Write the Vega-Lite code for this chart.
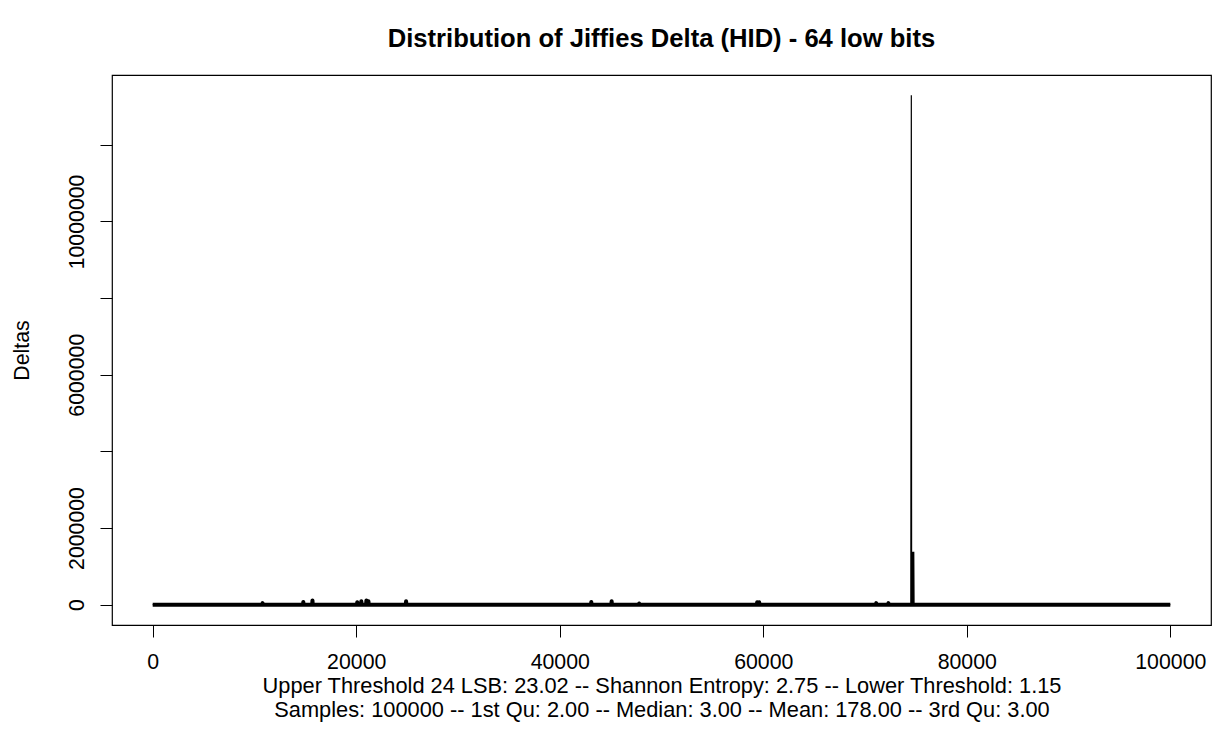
{
  "$schema": "https://vega.github.io/schema/vega-lite/v6.json",
  "width": 1099,
  "height": 550,
  "autosize": {"type": "none"},
  "padding": {"left": 112, "top": 75, "right": 2, "bottom": 106},
  "background": "white",
  "title": {
    "text": "Distribution of Jiffies Delta (HID) - 64 low bits",
    "anchor": "middle",
    "frame": "group",
    "font": "Liberation Sans",
    "fontSize": 25.6,
    "fontWeight": "bold",
    "color": "black",
    "baseline": "alphabetic",
    "offset": 2
  },
  "config": {
    "font": "Liberation Sans",
    "view": {"stroke": "black", "strokeWidth": 1.2}
  },
  "data": {
    "values": [
      {"index": 0, "delta": 3},
      {"index": 5000, "delta": 3},
      {"index": 10000, "delta": 3},
      {"index": 10770, "delta": 3},
      {"index": 10800, "delta": 40000},
      {"index": 10830, "delta": 3},
      {"index": 14770, "delta": 3},
      {"index": 14800, "delta": 70000},
      {"index": 14830, "delta": 3},
      {"index": 15670, "delta": 3},
      {"index": 15700, "delta": 110000},
      {"index": 15730, "delta": 3},
      {"index": 20070, "delta": 3},
      {"index": 20100, "delta": 60000},
      {"index": 20130, "delta": 3},
      {"index": 20470, "delta": 3},
      {"index": 20500, "delta": 90000},
      {"index": 20530, "delta": 3},
      {"index": 20970, "delta": 3},
      {"index": 21000, "delta": 110000},
      {"index": 21030, "delta": 3},
      {"index": 21170, "delta": 3},
      {"index": 21200, "delta": 90000},
      {"index": 21230, "delta": 3},
      {"index": 24870, "delta": 3},
      {"index": 24900, "delta": 90000},
      {"index": 24930, "delta": 3},
      {"index": 30000, "delta": 3},
      {"index": 35000, "delta": 3},
      {"index": 40000, "delta": 3},
      {"index": 43070, "delta": 3},
      {"index": 43100, "delta": 70000},
      {"index": 43130, "delta": 3},
      {"index": 45070, "delta": 3},
      {"index": 45100, "delta": 90000},
      {"index": 45130, "delta": 3},
      {"index": 47770, "delta": 3},
      {"index": 47800, "delta": 30000},
      {"index": 47830, "delta": 3},
      {"index": 50000, "delta": 3},
      {"index": 55000, "delta": 3},
      {"index": 59370, "delta": 3},
      {"index": 59400, "delta": 60000},
      {"index": 59430, "delta": 3},
      {"index": 59570, "delta": 3},
      {"index": 59600, "delta": 60000},
      {"index": 59630, "delta": 3},
      {"index": 65000, "delta": 3},
      {"index": 70000, "delta": 3},
      {"index": 71070, "delta": 3},
      {"index": 71100, "delta": 40000},
      {"index": 71130, "delta": 3},
      {"index": 72270, "delta": 3},
      {"index": 72300, "delta": 40000},
      {"index": 72330, "delta": 3},
      {"index": 74500, "delta": 3},
      {"index": 74550, "delta": 13290000},
      {"index": 74580, "delta": 3},
      {"index": 74610, "delta": 1380000},
      {"index": 74640, "delta": 3},
      {"index": 74670, "delta": 1370000},
      {"index": 74700, "delta": 3},
      {"index": 74730, "delta": 1380000},
      {"index": 74760, "delta": 3},
      {"index": 74790, "delta": 1380000},
      {"index": 74820, "delta": 3},
      {"index": 80000, "delta": 3},
      {"index": 85000, "delta": 3},
      {"index": 90000, "delta": 3},
      {"index": 95000, "delta": 3},
      {"index": 100000, "delta": 3}
    ]
  },
  "encoding": {
    "x": {
      "field": "index",
      "type": "quantitative",
      "scale": {"domain": [-4000, 104000], "nice": false, "zero": false},
      "axis": {
        "values": [0, 20000, 40000, 60000, 80000, 100000],
        "format": "d",
        "grid": false,
        "domain": false,
        "ticks": true,
        "tickSize": 12,
        "tickColor": "black",
        "tickWidth": 1,
        "labelFont": "Liberation Sans",
        "labelFontSize": 21.3,
        "labelColor": "black",
        "labelBaseline": "alphabetic",
        "labelPadding": 31,
        "labelFlush": false,
        "labelOverlap": false,
        "title": [
          "Upper Threshold 24 LSB: 23.02 -- Shannon Entropy: 2.75 -- Lower Threshold: 1.15",
          "Samples: 100000 -- 1st Qu: 2.00 -- Median: 3.00 -- Mean: 178.00 -- 3rd Qu: 3.00"
        ],
        "titleFont": "Liberation Sans",
        "titleFontSize": 21.8,
        "titleFontWeight": "normal",
        "titleColor": "black",
        "titleBaseline": "top",
        "titleAlign": "center",
        "titleAnchor": "middle",
        "titleLineHeight": 24.6,
        "titleX": 549.5,
        "titleY": 50
      }
    },
    "y": {
      "field": "delta",
      "type": "quantitative",
      "scale": {"domain": [-531600, 13821600], "nice": false, "zero": false},
      "axis": {
        "values": [0, 2000000, 4000000, 6000000, 8000000, 10000000, 12000000],
        "format": "d",
        "labelExpr": "datum.value == 4000000 || datum.value == 8000000 || datum.value == 12000000 ? '' : datum.label",
        "grid": false,
        "domain": false,
        "tickSize": 12,
        "tickColor": "black",
        "tickWidth": 1,
        "labelFont": "Liberation Sans",
        "labelFontSize": 21.3,
        "labelColor": "black",
        "labelAngle": -90,
        "labelAlign": "center",
        "labelBaseline": "alphabetic",
        "labelPadding": 17,
        "labelOverlap": false,
        "labelFlush": false,
        "title": "Deltas",
        "titleFont": "Liberation Sans",
        "titleFontSize": 21.3,
        "titleFontWeight": "normal",
        "titleColor": "black",
        "titleAngle": -90,
        "titleAlign": "center",
        "titleBaseline": "alphabetic",
        "titleX": -84,
        "titleY": 275
      }
    }
  },
  "layer": [
    {
      "transform": [{"filter": "datum.delta < 200000"}],
      "mark": {"type": "line", "color": "black", "strokeWidth": 4, "strokeJoin": "round", "strokeCap": "butt", "clip": true}
    },
    {
      "mark": {"type": "line", "color": "black", "strokeWidth": 1.2, "strokeJoin": "bevel", "clip": true}
    }
  ]
}
